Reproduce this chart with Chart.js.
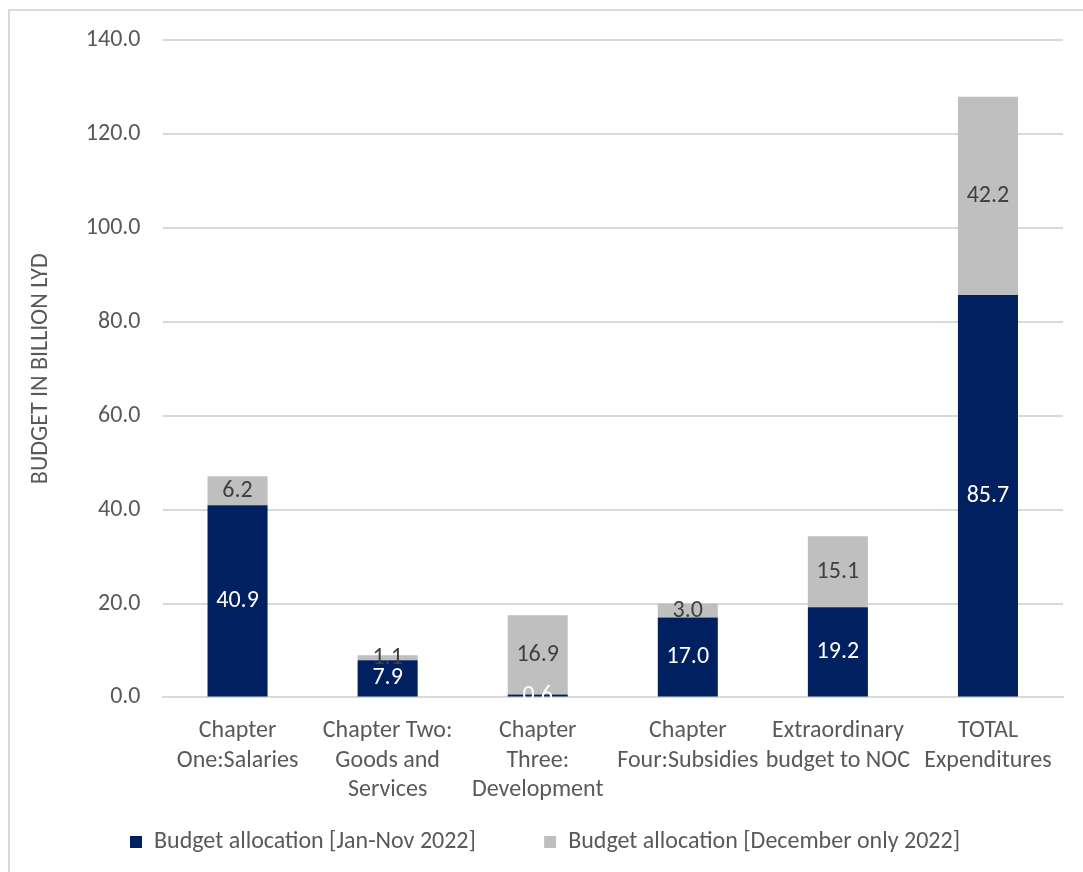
<!DOCTYPE html>
<html>
<head>
<meta charset="utf-8">
<script src="https://cdn.jsdelivr.net/npm/chart.js@4"></script>
<style>
  body { margin: 0; background: #fff; }
  #frame { position: absolute; left: 8px; top: 9px; width: 1090px; height: 880px; border: 2px solid #d9d9d9; box-sizing: border-box; }
  #wrap { position: absolute; left: 0; top: 0; width: 1083px; height: 872px; }
</style>
</head>
<body>
<div id="frame"></div>
<div id="wrap"><canvas id="chart-budget"></canvas></div>
<script>
// budget stacked bars

const categories = [
  ['Chapter', 'One:Salaries'],
  ['Chapter Two:', 'Goods and', 'Services'],
  ['Chapter', 'Three:', 'Development'],
  ['Chapter', 'Four:Subsidies'],
  ['Extraordinary', 'budget to NOC'],
  ['TOTAL', 'Expenditures']
];
const janNov = [40.9, 7.9, 0.6, 17.0, 19.2, 85.7];
const december = [6.2, 1.1, 16.9, 3.0, 15.1, 42.2];

const fontFam = 'Carlito, Calibri, Lato, sans-serif';

// draws the value in the middle of each bar segment
const valueLabels = {
  id: 'valueLabels',
  afterDatasetsDraw(chart) {
    const ctx = chart.ctx;
    ctx.save();
    ctx.font = '24px ' + fontFam;
    ctx.textAlign = 'center';
    ctx.textBaseline = 'middle';
    chart.data.datasets.forEach((ds, i) => {
      const meta = chart.getDatasetMeta(i);
      ctx.fillStyle = ds.labelColor;
      meta.data.forEach((bar, j) => {
        ctx.fillText(ds.data[j].toFixed(1), bar.x, (bar.y + bar.base) / 2);
      });
    });
    ctx.restore();
  }
};

const dataBudget = {
  labels: categories,
  datasets: [
    {
      // trailing spaces widen the gap between the two legend items
      label: 'Budget allocation [Jan-Nov 2022]          ',
      data: janNov,
      backgroundColor: '#002060',
      labelColor: '#ffffff',
      barPercentage: 0.4,
      categoryPercentage: 1.0
    },
    {
      label: 'Budget allocation [December only 2022]',
      data: december,
      backgroundColor: '#bfbfbf',
      labelColor: '#404040',
      barPercentage: 0.4,
      categoryPercentage: 1.0
    }
  ]
};

const configBudget = {
  type: 'bar',
  data: dataBudget,
  plugins: [valueLabels],
  options: {
    responsive: true,
    maintainAspectRatio: false,
    animation: false,
    layout: { padding: { top: 40, left: 27, right: 20, bottom: 8 } },
    scales: {
      x: {
        stacked: true,
        grid: { display: false },
        border: { color: '#d9d9d9', width: 2 },
        ticks: {
          color: '#595959',
          maxRotation: 0,
          autoSkip: false,
          padding: 11,
          font: { size: 24, family: fontFam, lineHeight: 1.23 }
        }
      },
      y: {
        stacked: true,
        min: 0,
        max: 140,
        border: { display: false },
        grid: { color: '#d9d9d9', lineWidth: 2, drawTicks: false },
        title: {
          display: true,
          text: 'BUDGET IN BILLION LYD',
          color: '#595959',
          padding: { top: 0, bottom: 8 },
          font: { size: 24, family: fontFam }
        },
        ticks: {
          stepSize: 20,
          color: '#595959',
          padding: 22,
          font: { size: 24, family: fontFam },
          callback: v => v.toFixed(1)
        }
      }
    },
    plugins: {
      tooltip: { enabled: false },
      legend: {
        position: 'bottom',
        labels: {
          color: '#595959',
          boxWidth: 12,
          boxHeight: 12,
          padding: 14,
          font: { size: 24, family: fontFam }
        }
      }
    }
  }
};

const chartBudget = new Chart(document.getElementById('chart-budget'), configBudget);
</script>
</body>
</html>
